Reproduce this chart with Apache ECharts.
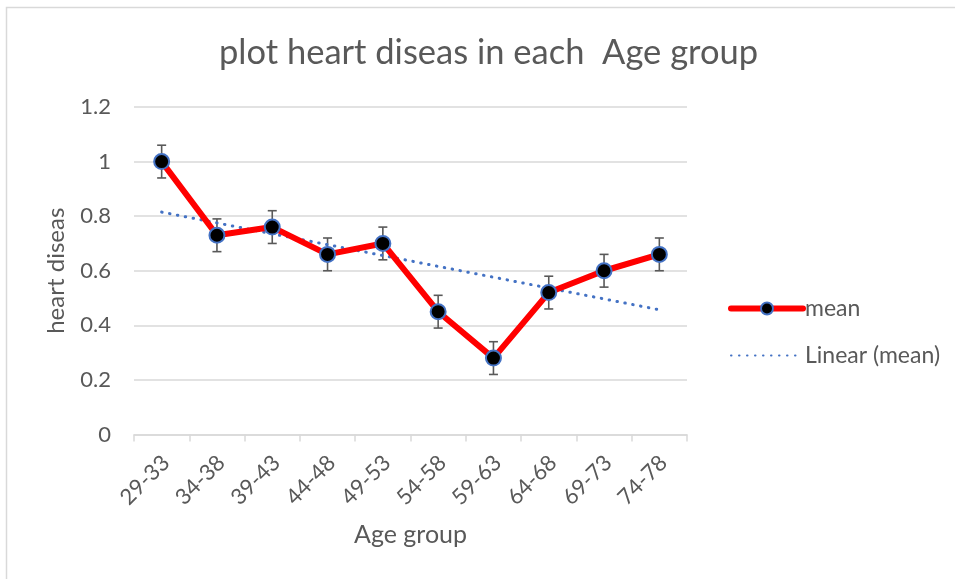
<!DOCTYPE html>
<html>
<head>
<meta charset="utf-8">
<script src="https://cdn.jsdelivr.net/npm/echarts@6/dist/echarts.min.js"></script>
<style>
html,body{margin:0;padding:0;background:#fff;}
#main{width:955px;height:579px;}
</style>
</head>
<body>
<div id="main"></div>
<script>
const categories = ['29-33','34-38','39-43','44-48','49-53','54-58','59-63','64-68','69-73','74-78'];
const meanValues = [1.00, 0.73, 0.76, 0.66, 0.70, 0.45, 0.28, 0.52, 0.60, 0.66];
const errorValues = [0.06, 0.06, 0.06, 0.06, 0.06, 0.06, 0.06, 0.06, 0.06, 0.06];
const trendValues = [0.815, null, null, null, null, null, null, null, null, 0.457];
const yTicks = [0, 0.2, 0.4, 0.6, 0.8, 1, 1.2];

const FONT = 'Lato';
const GRAY = '#595959';

const chart = echarts.init(document.getElementById('main'), null, {renderer:'canvas'});

const errorData = meanValues.map((v, i) => [i, v - errorValues[i], v + errorValues[i]]);

chart.setOption({
  animation: false,
  backgroundColor: '#fff',
  textStyle: {fontFamily: FONT},
  graphic: [{
    type: 'rect',
    shape: {x: 6.5, y: 7.5, width: 960, height: 590},
    style: {fill: 'none', stroke: '#d9d9d9', lineWidth: 1.5},
    silent: true, z: -10
  }],
  title: {
    text: 'plot heart diseas in each  Age group',
    left: 214,
    top: 30,
    textStyle: {fontFamily: FONT, fontSize: 34.5, fontWeight: 'normal', color: GRAY}
  },
  legend: {
    orient: 'vertical',
    left: 723,
    top: 292,
    itemWidth: 72,
    itemHeight: 15,
    itemGap: 24,
    textStyle: {fontFamily: FONT, fontSize: 23, color: GRAY, padding: [0,0,0,-3]},
    data: [
      {name: 'mean', lineStyle: {width: 6, cap: 'round'}},
      {name: 'Linear (mean)', itemStyle: {opacity: 0}}
    ]
  },
  grid: {left: 134, right: 268, top: 107, bottom: 144.5, containLabel: false},
  xAxis: {
    type: 'category',
    data: categories,
    boundaryGap: true,
    name: 'Age group',
    nameLocation: 'middle',
    nameGap: 88,
    nameTextStyle: {fontFamily: FONT, fontSize: 25, color: GRAY},
    axisLine: {lineStyle: {color: '#d9d9d9', width: 1.5}},
    axisTick: {show: true, alignWithLabel: false, length: 7, lineStyle: {color: '#d9d9d9', width: 1.5}},
    axisLabel: {rotate: 45, margin: 29, padding: [0, -6, 0, 0], fontFamily: FONT, fontSize: 22, color: GRAY, interval: 0}
  },
  yAxis: {
    type: 'value',
    min: 0, max: 1.2, interval: 0.2,
    name: 'heart diseas',
    nameLocation: 'middle',
    nameGap: 66,
    nameTextStyle: {fontFamily: FONT, fontSize: 24, color: GRAY},
    axisLine: {show: false},
    axisTick: {show: false},
    splitLine: {lineStyle: {color: '#d9d9d9', width: 1.5}},
    axisLabel: {margin: 23, fontFamily: FONT, fontSize: 22, color: GRAY,
      formatter: v => { const t = yTicks.find(x => Math.abs(x - v) < 1e-9); return String(t !== undefined ? t : v); }}
  },
  series: [
    {
      name: 'Linear (mean)',
      type: 'line',
      data: trendValues,
      connectNulls: true,
      symbol: 'none',
      lineStyle: {color: '#4472C4', width: 3, type: [0.5, 7.5], cap: 'round'},
      itemStyle: {color: '#4472C4'},
      z: 4
    },
    {
      name: 'errbars',
      type: 'custom',
      data: errorData,
      renderItem: function(params, api) {
        const i = api.value(0);
        const lo = api.coord([i, api.value(1)]);
        const hi = api.coord([i, api.value(2)]);
        const hw = 4.5;
        const st = {stroke: GRAY, lineWidth: 1.6, fill: 'none'};
        return {type: 'group', children: [
          {type: 'line', shape: {x1: lo[0], y1: lo[1], x2: hi[0], y2: hi[1]}, style: st},
          {type: 'line', shape: {x1: lo[0]-hw, y1: lo[1], x2: lo[0]+hw, y2: lo[1]}, style: st},
          {type: 'line', shape: {x1: hi[0]-hw, y1: hi[1], x2: hi[0]+hw, y2: hi[1]}, style: st}
        ]};
      },
      z: 3,
      silent: true
    },
    {
      name: 'mean',
      type: 'line',
      data: meanValues,
      symbol: 'circle',
      symbolSize: 15,
      lineStyle: {color: '#ff0000', width: 6},
      itemStyle: {color: '#000', borderColor: '#4472C4', borderWidth: 2},
      z: 5
    }
  ]
});
</script>
</body>
</html>
